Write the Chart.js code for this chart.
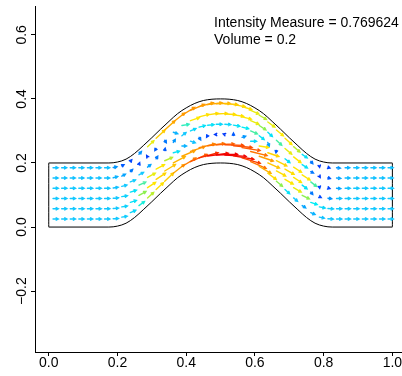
<!DOCTYPE html>
<html>
<head>
<meta charset="utf-8">
<script src="https://cdn.jsdelivr.net/npm/chart.js@4.4.0/dist/chart.umd.min.js"></script>
<style>
  body { margin: 0; background: #fff; }
  canvas { display: block; }
</style>
</head>
<body>
<canvas id="flowChart" width="402" height="376"></canvas>
<script>
// channel walls
var wallX = [0, 0.175, 0.2, 0.225, 0.25, 0.275, 0.3, 0.325, 0.35, 0.375, 0.4, 0.425, 0.45, 0.475, 0.5,
    0.525, 0.55, 0.575, 0.6, 0.625, 0.65, 0.675, 0.7, 0.725, 0.75, 0.775, 0.8, 0.825, 1];
var wallLow = [0, 0, 0.003, 0.012, 0.03, 0.054, 0.079, 0.105, 0.13, 0.154, 0.172, 0.186, 0.195, 0.199, 0.2,
    0.199, 0.195, 0.186, 0.172, 0.154, 0.13, 0.105, 0.079, 0.054, 0.03, 0.012, 0.003, 0, 0];
var wallHigh = [0.2, 0.2, 0.203, 0.212, 0.23, 0.254, 0.279, 0.305, 0.33, 0.354, 0.372, 0.386, 0.395, 0.399, 0.4,
    0.399, 0.395, 0.386, 0.372, 0.354, 0.33, 0.305, 0.279, 0.254, 0.23, 0.212, 0.203, 0.2, 0.2];

// velocity sample columns
var colX = [0.0125, 0.0375, 0.0625, 0.0875, 0.1125, 0.1375, 0.1625, 0.1875, 0.2125, 0.2375,
    0.2625, 0.2875, 0.3125, 0.3375, 0.3625, 0.3875, 0.4125, 0.4375, 0.4625, 0.4875,
    0.5125, 0.5375, 0.5625, 0.5875, 0.6125, 0.6375, 0.6625, 0.6875, 0.7125, 0.7375,
    0.7625, 0.7875, 0.8125, 0.8375, 0.8625, 0.8875, 0.9125, 0.9375, 0.9625, 0.9875];
var colBase = [0, 0, 0, 0, 0, 0, 0, 0.001, 0.006, 0.02,
    0.042, 0.066, 0.092, 0.118, 0.143, 0.164, 0.179, 0.191, 0.197, 0.2,
    0.2, 0.197, 0.191, 0.179, 0.164, 0.143, 0.118, 0.092, 0.066, 0.042,
    0.02, 0.006, 0.001, 0, 0, 0, 0, 0, 0, 0];
var rowOffset = [0.025, 0.057, 0.089, 0.121, 0.153, 0.185];

// speed (relative) and direction (degrees) per row, bottom row first
var speedR0 = [.25, .25, .25, .25, .25, .25, .25, .25, .26, .28, .33, .40, .48, .58, .68, .78, .86, .93, .98, 1.0,
    1.0, .97, .90, .80, .65, .50, .38, .30, .25, .20, .22, .24, .25, .25, .25, .25, .25, .25, .25, .25];
var angleR0 = [0, 0, 0, 0, 0, 0, 0, 3, 10, 25, 38, 44, 45, 45, 40, 33, 25, 16, 8, 2,
    -4, -10, -18, -25, -32, -38, -42, -44, -42, -35, -25, -12, -4, 0, 0, 0, 0, 0, 0, 0];
var speedR1 = [.25, .25, .25, .25, .25, .25, .25, .25, .27, .30, .38, .46, .54, .60, .64, .68, .72, .76, .80, .84,
    .88, .88, .86, .80, .70, .60, .50, .45, .42, .38, .32, .28, .26, .25, .25, .25, .25, .25, .25, .25];
var angleR1 = [0, 0, 0, 0, 0, 0, 0, 4, 10, 20, 30, 35, 35, 33, 30, 25, 20, 14, 8, 3,
    -2, -6, -10, -15, -20, -25, -30, -32, -32, -28, -20, -12, -5, 0, 0, 0, 0, 0, 0, 0];
var speedR2 = [.25, .25, .25, .25, .25, .25, .25, .25, .27, .30, .35, .42, .45, .40, .30, .22, .24, .15, .10, .08,
    .08, .12, .18, .28, .45, .55, .55, .50, .45, .30, .15, .10, .18, .24, .25, .25, .25, .25, .25, .25];
var angleR2 = [0, 0, 0, 0, 0, 0, 0, 5, 10, 18, 25, 30, 30, 25, 15, 0, -20, -60, -120, 180,
    160, 90, 20, 0, -10, -20, -28, -32, -35, -40, -50, -30, -10, 0, 0, 0, 0, 0, 0, 0];
var speedR3 = [.25, .25, .25, .25, .25, .25, .25, .24, .25, .26, .25, .20, .15, .12, .18, .25, .28, .30, .30, .28,
    .28, .30, .32, .35, .30, .20, .12, .30, .45, .45, .35, .10, .10, .20, .24, .25, .25, .25, .25, .25];
var angleR3 = [0, 0, 0, 0, 0, 0, 0, 8, 15, 22, 30, 40, 60, 80, 60, 40, 25, 15, 5, 0,
    -5, -10, -15, -25, -40, -70, -100, -40, -35, -35, -40, -80, -20, -5, 0, 0, 0, 0, 0, 0];
var speedR4 = [.24, .24, .24, .24, .24, .24, .24, .22, .20, .15, .10, .08, .12, .15, .22, .34, .44, .48, .50, .52,
    .50, .48, .45, .42, .38, .30, .35, .42, .45, .30, .15, .08, .12, .20, .23, .24, .24, .24, .24, .24];
var angleR4 = [0, 0, 0, 0, 0, 0, 0, 15, 30, 45, 70, 120, -120, -60, -20, 10, 20, 15, 10, 3,
    -3, -8, -15, -25, -35, -45, -45, -42, -40, -35, -30, -60, -20, -5, 0, 0, 0, 0, 0, 0];
var speedR5 = [.24, .24, .24, .24, .24, .24, .24, .18, .12, .10, .18, .42, .58, .66, .70, .72, .72, .70, .68, .65,
    .60, .55, .48, .42, .40, .42, .44, .45, .40, .30, .15, .08, .10, .18, .22, .24, .24, .24, .24, .24];
var angleR5 = [0, 0, 0, 0, 0, 0, 0, 10, 30, 50, 50, 45, 45, 44, 40, 33, 25, 16, 8, 2,
    -4, -10, -18, -25, -32, -38, -42, -44, -42, -38, -50, -80, -20, -5, 0, 0, 0, 0, 0, 0];

var xTicks = [0, 0.2, 0.4, 0.6, 0.8, 1.0];
var xTickLabels = ['0.0', '0.2', '0.4', '0.6', '0.8', '1.0'];
var yTicks = [-0.2, 0, 0.2, 0.4, 0.6];
var yTickLabels = ['\u22120.2', '0.0', '0.2', '0.4', '0.6'];
var noteLines = ['Intensity Measure = 0.769624', 'Volume = 0.2'];
var noteX = 0.481;
var noteY = [0.623, 0.570];

var arrowScale = 0.062;
var fontFace = '14px "Liberation Sans", Arial, sans-serif';

var speedRows = [speedR0, speedR1, speedR2, speedR3, speedR4, speedR5];
var angleRows = [angleR0, angleR1, angleR2, angleR3, angleR4, angleR5];

var arrows = [];
for (var j = 0; j < rowOffset.length; j++) {
    for (var i = 0; i < colX.length; i++) {
        var a = angleRows[j][i] * Math.PI / 180;
        var s = speedRows[j][i];
        arrows.push({
            x: colX[i], y: colBase[i] + rowOffset[j], s: s,
            u: s * arrowScale * Math.cos(a), v: s * arrowScale * Math.sin(a)
        });
    }
}

// blue -> cyan -> yellow -> orange -> red
var palette = [
    [0.00, 0, 0, 230], [0.10, 0, 70, 255], [0.18, 0, 150, 255], [0.25, 20, 200, 255],
    [0.32, 0, 235, 245], [0.38, 140, 240, 80], [0.43, 255, 235, 0], [0.58, 255, 205, 0],
    [0.72, 255, 150, 0], [0.86, 255, 90, 0], [1.00, 240, 0, 0]
];

function speedColor(s) {
    for (var k = 1; k < palette.length; k++) {
        if (s <= palette[k][0]) {
            var p = palette[k - 1], q = palette[k];
            var t = (s - p[0]) / (q[0] - p[0]);
            return 'rgb(' + Math.round(p[1] + t * (q[1] - p[1])) + ',' +
                Math.round(p[2] + t * (q[2] - p[2])) + ',' + Math.round(p[3] + t * (q[3] - p[3])) + ')';
        }
    }
    return 'rgb(240,0,0)';
}

var arrowPlugin = {
    id: 'arrows',
    afterDatasetsDraw: function (chart) {
        var ctx = chart.ctx, xs = chart.scales.x, ys = chart.scales.y;
        ctx.save();
        ctx.lineWidth = 1.4;
        ctx.lineCap = 'round';
        arrows.forEach(function (p) {
            var x0 = xs.getPixelForValue(p.x), y0 = ys.getPixelForValue(p.y);
            var x1 = xs.getPixelForValue(p.x + p.u), y1 = ys.getPixelForValue(p.y + p.v);
            var ang = Math.atan2(y1 - y0, x1 - x0);
            ctx.strokeStyle = speedColor(p.s);
            ctx.beginPath();
            ctx.moveTo(x0, y0);
            ctx.lineTo(x1, y1);
            ctx.moveTo(x1 - 2.5 * Math.cos(ang - 0.5), y1 - 2.5 * Math.sin(ang - 0.5));
            ctx.lineTo(x1, y1);
            ctx.lineTo(x1 - 2.5 * Math.cos(ang + 0.5), y1 - 2.5 * Math.sin(ang + 0.5));
            ctx.stroke();
        });
        ctx.restore();
    }
};

var textPlugin = {
    id: 'texts',
    afterDraw: function (chart) {
        var ctx = chart.ctx, xs = chart.scales.x, ys = chart.scales.y;
        ctx.save();
        ctx.font = fontFace;
        ctx.fillStyle = '#000';
        ctx.textAlign = 'center';
        ctx.textBaseline = 'alphabetic';
        xTicks.forEach(function (v, i) {
            ctx.fillText(xTickLabels[i], xs.getPixelForValue(v), 367);
        });
        yTicks.forEach(function (v, i) {
            ctx.save();
            ctx.translate(25.5, ys.getPixelForValue(v));
            ctx.rotate(-Math.PI / 2);
            ctx.fillText(yTickLabels[i], 0, 0);
            ctx.restore();
        });
        ctx.textAlign = 'left';
        noteLines.forEach(function (t, i) {
            ctx.fillText(t, xs.getPixelForValue(noteX), ys.getPixelForValue(noteY[i]));
        });
        ctx.restore();
    }
};

function wallSet(xv, yv) {
    return {
        data: xv.map(function (x, i) { return { x: x, y: yv[i] }; }),
        showLine: true, borderColor: '#000', borderWidth: 1, pointRadius: 0,
        cubicInterpolationMode: 'monotone'
    };
}

var ctx = document.getElementById('flowChart');
var flowChart = new Chart(ctx, {
    type: 'scatter',
    data: {
        datasets: [
            wallSet(wallX, wallLow),
            wallSet(wallX, wallHigh),
            wallSet([0, 0], [0, 0.2]),
            wallSet([1, 1], [0, 0.2]),
            { data: arrows.map(function (p) { return { x: p.x, y: p.y }; }), pointRadius: 0 }
        ]
    },
    options: {
        responsive: false,
        animation: false,
        devicePixelRatio: 1,
        layout: { padding: { top: 6, left: 0, right: 0, bottom: 0 } },
        plugins: { legend: { display: false }, tooltip: { enabled: false } },
        scales: {
            x: {
                type: 'linear', min: -0.04, max: 1.028,
                afterBuildTicks: function (s) { s.ticks = xTicks.map(function (v) { return { value: v }; }); },
                afterFit: function (s) { s.height = 24; },
                ticks: { display: false },
                grid: { drawOnChartArea: false, drawTicks: true, tickLength: 4, color: '#000' },
                border: { display: true, color: '#000' }
            },
            y: {
                type: 'linear', min: -0.39, max: 0.69,
                afterBuildTicks: function (s) { s.ticks = yTicks.map(function (v) { return { value: v }; }); },
                afterFit: function (s) { s.width = 35; },
                ticks: { display: false },
                grid: { drawOnChartArea: false, drawTicks: true, tickLength: 4, color: '#000' },
                border: { display: true, color: '#000' }
            }
        }
    },
    plugins: [arrowPlugin, textPlugin]
});
</script>
</body>
</html>
